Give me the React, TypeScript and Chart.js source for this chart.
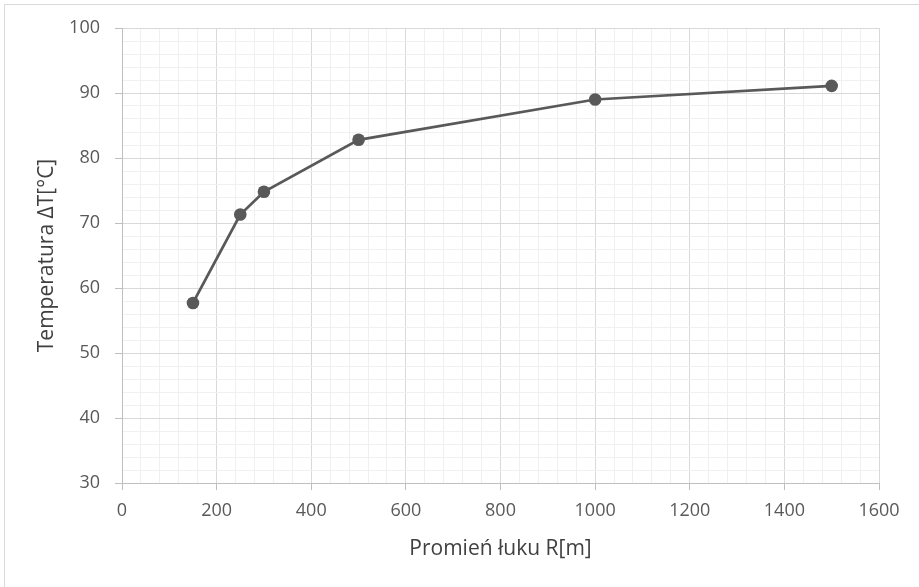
import React, { useEffect, useRef } from "react";
import { Chart, registerables } from "chart.js";

Chart.register(...registerables);

const radiusValues = [150, 250, 300, 500, 1000, 1500];
const temperatureValues = [57.7, 71.3, 74.8, 82.8, 89.0, 91.1];
const xTickValues = [0, 200, 400, 600, 800, 1000, 1200, 1400, 1600];
const yTickValues = [30, 40, 50, 60, 70, 80, 90, 100];
const xTitle = "Promień łuku R[m]";
const yTitle = "Temperatura ΔT[°C]";

const MAJOR = "#d9d9d9";
const MINOR = "#f0f0f0";
const FONT = "'Open Sans', 'Noto Sans', sans-serif";

export default function App() {
  const ref = useRef<HTMLCanvasElement | null>(null);

  useEffect(() => {
    if (!ref.current) return;
    const points = radiusValues.map((x, i) => ({ x, y: temperatureValues[i] }));
    const isMajorX = (v: number) => xTickValues.includes(v);
    const isMajorY = (v: number) => yTickValues.includes(v);
    const chart = new Chart(ref.current, {
      type: "scatter",
      data: {
        datasets: [
          {
            data: points,
            showLine: true,
            borderColor: "#595959",
            backgroundColor: "#595959",
            borderWidth: 2.75,
            pointRadius: 6.3,
            pointBorderWidth: 0,
            pointHoverRadius: 6.3,
          },
        ],
      },
      options: {
        animation: false,
        responsive: false,
        devicePixelRatio: 1,
        layout: { padding: { left: 18, right: 40, top: 28, bottom: 25 } },
        plugins: { legend: { display: false }, tooltip: { enabled: false } },
        scales: {
          x: {
            type: "linear",
            min: 0,
            max: 1600,
            afterBuildTicks: (scale: any) => {
              const t = [];
              for (let v = 0; v <= 1600; v += 40) t.push({ value: v });
              scale.ticks = t;
            },
            afterFit: (scale: any) => {
              scale.height = 79;
            },
            ticks: {
              autoSkip: false,
              maxRotation: 0,
              padding: 10,
              color: "#595959",
              font: { family: FONT, size: 18 },
              callback: (v: any) => (isMajorX(Number(v)) ? String(v) : ""),
            },
            grid: {
              color: (ctx: any) => (isMajorX(ctx.tick.value) ? MAJOR : MINOR),
              tickColor: (ctx: any) =>
                ctx.tick && isMajorX(ctx.tick.value) ? "#bfbfbf" : "rgba(0,0,0,0)",
              tickLength: 7,
              lineWidth: 1,
            },
            border: { color: "#bfbfbf", width: 1 },
            title: {
              display: true,
              text: xTitle,
              color: "#404040",
              font: { family: FONT, size: 21 },
              padding: { top: 8, bottom: 0 },
            },
          },
          y: {
            type: "linear",
            min: 30,
            max: 100,
            afterBuildTicks: (scale: any) => {
              const t = [];
              for (let v = 30; v <= 100; v += 2) t.push({ value: v });
              scale.ticks = t;
            },
            afterFit: (scale: any) => {
              scale.width = 104;
            },
            ticks: {
              autoSkip: false,
              padding: 15,
              color: "#595959",
              font: { family: FONT, size: 18 },
              callback: (v: any) => (isMajorY(Number(v)) ? String(v) : ""),
            },
            grid: {
              color: (ctx: any) => (isMajorY(ctx.tick.value) ? MAJOR : MINOR),
              tickColor: (ctx: any) =>
                ctx.tick && isMajorY(ctx.tick.value) ? "#bfbfbf" : "rgba(0,0,0,0)",
              tickLength: 7,
              lineWidth: 1,
            },
            border: { color: "#bfbfbf", width: 1 },
            title: {
              display: true,
              text: yTitle,
              color: "#404040",
              font: { family: FONT, size: 21 },
              padding: { top: 16, bottom: 0 },
            },
          },
        },
      },
    });
    return () => chart.destroy();
  }, []);

  return (
    <div
      style={{
        position: "fixed",
        left: 0,
        top: 0,
        width: 919,
        height: 587,
        background: "#fff",
      }}
    >
      <div
        style={{
          position: "absolute",
          left: 4,
          top: 4,
          right: 0,
          bottom: 0,
          borderTop: "1px solid #d9d9d9",
          borderLeft: "1px solid #d9d9d9",
        }}
      />
      <canvas
        ref={ref}
        width={919}
        height={587}
        style={{ position: "absolute", left: 0, top: 0 }}
      />
    </div>
  );
}
